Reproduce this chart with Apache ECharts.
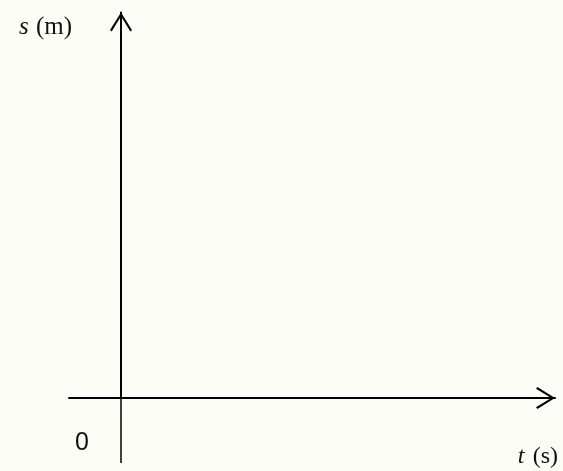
<!DOCTYPE html>
<html>
<head>
<meta charset="utf-8">
<script src="https://cdn.jsdelivr.net/npm/echarts@6/dist/echarts.min.js"></script>
<style>
  html, body { margin: 0; padding: 0; background: #fdfdf7; }
  #sketch { width: 563px; height: 471px; }
</style>
</head>
<body>
<div id="sketch"></div>
<script>
// axis extents (t to the right, s upwards), the plot is empty
var tRange = [-52, 434];
var sRange = [0, 385];
// short piece of the s axis below the origin
var sTail = [[0, -65], [0, 0]];
var originLabels = [0];

// open arrow head, drawn pointing up
var chevron = 'path://M11,0 L22,17.6 L20.3,19 L11,3.8 L1.7,19 L0,17.6 Z';

var serif = 'Liberation Serif';

var myChart = echarts.init(document.getElementById('sketch'));

option = {
    backgroundColor: '#fdfdf7',
    animation: false,
    grid: {
        left: 69,
        right: 8,
        top: 12.5,
        bottom: 73
    },
    xAxis: {
        type: 'value',
        min: tRange[0],
        max: tRange[1],
        name: '{i|t}{n|(s)}',
        nameLocation: 'end',
        nameGap: 3,
        nameTextStyle: {
            align: 'right',
            verticalAlign: 'middle',
            padding: [118, 0, 0, 0],
            rich: {
                i: { fontStyle: 'italic', fontFamily: serif, fontSize: 24, color: '#111', width: 15, align: 'left' },
                n: { fontFamily: serif, fontSize: 24, color: '#111', align: 'left' }
            }
        },
        axisLine: {
            onZero: true,
            symbol: ['none', chevron],
            symbolSize: [22, 19],
            symbolOffset: [0, -9.5],
            lineStyle: { color: '#000', width: 2 }
        },
        axisTick: { show: false },
        splitLine: { show: false },
        axisLabel: {
            customValues: originLabels,
            fontFamily: 'Liberation Sans',
            fontSize: 25,
            color: '#111',
            align: 'right',
            verticalAlign: 'top',
            margin: 33,
            padding: [0, 32, 0, 0]
        }
    },
    yAxis: {
        type: 'value',
        min: sRange[0],
        max: sRange[1],
        name: '{i|s}{n|(m)}',
        nameLocation: 'end',
        nameGap: -14.5,
        nameTextStyle: {
            align: 'right',
            verticalAlign: 'middle',
            padding: [0, 49, 0, 0],
            rich: {
                i: { fontStyle: 'italic', fontFamily: serif, fontSize: 25, color: '#111', width: 17, align: 'left' },
                n: { fontFamily: serif, fontSize: 25, color: '#111', align: 'left' }
            }
        },
        axisLine: {
            onZero: true,
            symbol: ['none', chevron],
            symbolSize: [22, 19],
            symbolOffset: [0, -9.5],
            lineStyle: { color: '#000', width: 2 }
        },
        axisTick: { show: false },
        splitLine: { show: false },
        axisLabel: { show: false }
    },
    series: [{
        type: 'line',
        data: sTail,
        clip: false,
        symbol: 'none',
        silent: true,
        lineStyle: { color: '#000', width: 1.5 }
    }]
};

myChart.setOption(option);
</script>
</body>
</html>
